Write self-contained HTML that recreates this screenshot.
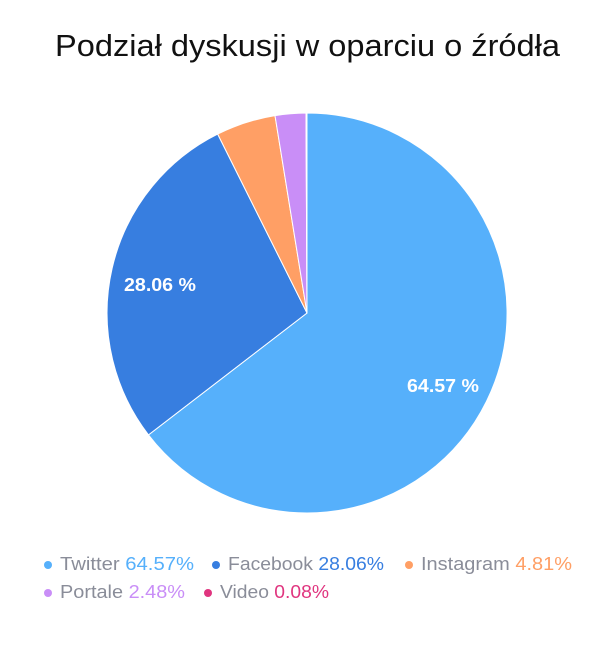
<!DOCTYPE html>
<html><head><meta charset="utf-8"><style>
body{margin:0;background:#fff;width:610px;height:650px;overflow:hidden;font-family:"Liberation Sans",sans-serif}
</style></head><body>
<svg width="610" height="650" viewBox="0 0 610 650" xmlns="http://www.w3.org/2000/svg" font-family="Liberation Sans, sans-serif">
<text x="55" y="56" font-size="31" fill="#111" textLength="505" lengthAdjust="spacingAndGlyphs">Podział dyskusji w oparciu o źródła</text>
<g stroke="#fff" stroke-width="1">
<path d="M307,313 L307,113 A200,200 0 1 1 148.5,434.9 Z" fill="#56b0fb"/>
<path d="M307,313 L148.5,434.9 A200,200 0 0 1 217.7,134.1 Z" fill="#377ee0"/>
<path d="M307,313 L217.7,134.1 A200,200 0 0 1 275,115.6 Z" fill="#ff9f65"/>
<path d="M307,313 L275,115.6 A200,200 0 0 1 306,113 Z" fill="#c98ef7"/>
<path d="M307,313 L306,113 A200,200 0 0 1 307,113 Z" fill="#e0357f"/>
</g>
<text x="407" y="392" font-size="18" font-weight="bold" fill="#fff" textLength="72" lengthAdjust="spacingAndGlyphs">64.57 %</text>
<text x="124" y="291" font-size="18" font-weight="bold" fill="#fff" textLength="72" lengthAdjust="spacingAndGlyphs">28.06 %</text>
<g font-size="18">
<circle cx="48" cy="565" r="4" fill="#56b0fb"/>
<text x="60" y="570" fill="#8a8d99" textLength="134" lengthAdjust="spacingAndGlyphs">Twitter <tspan fill="#56b0fb">64.57%</tspan></text>
<circle cx="216" cy="565" r="4" fill="#377ee0"/>
<text x="228" y="570" fill="#8a8d99" textLength="156" lengthAdjust="spacingAndGlyphs">Facebook <tspan fill="#377ee0">28.06%</tspan></text>
<circle cx="409" cy="565" r="4" fill="#ff9f65"/>
<text x="421" y="570" fill="#8a8d99" textLength="151" lengthAdjust="spacingAndGlyphs">Instagram <tspan fill="#ff9f65">4.81%</tspan></text>
<circle cx="48" cy="593" r="4" fill="#c98ef7"/>
<text x="60" y="598" fill="#8a8d99" textLength="125" lengthAdjust="spacingAndGlyphs">Portale <tspan fill="#c98ef7">2.48%</tspan></text>
<circle cx="208" cy="593" r="4" fill="#e0357f"/>
<text x="220" y="598" fill="#8a8d99" textLength="109" lengthAdjust="spacingAndGlyphs">Video <tspan fill="#e0357f">0.08%</tspan></text>
</g>
</svg>
</body></html>
